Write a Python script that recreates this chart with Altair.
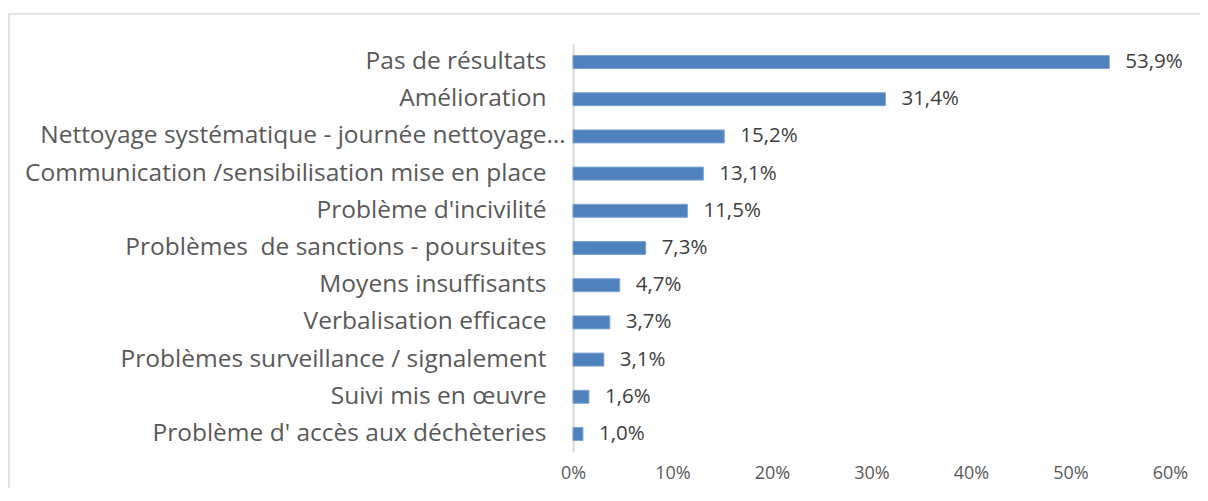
import altair as alt
import pandas as pd

categories = [
    "Pas de résultats",
    "Amélioration",
    "Nettoyage systématique - journée nettoyage…",
    "Communication /sensibilisation mise en place",
    "Problème d'incivilité",
    "Problèmes\u00a0 de sanctions - poursuites",
    "Moyens insuffisants",
    "Verbalisation efficace",
    "Problèmes surveillance / signalement",
    "Suivi mis en œuvre",
    "Problème d' accès aux déchèteries",
]
values = [53.9, 31.4, 15.2, 13.1, 11.5, 7.3, 4.7, 3.7, 3.1, 1.6, 1.0]
tick_values = [0, 10, 20, 30, 40, 50, 60]

df = pd.DataFrame({"cat": categories, "v": values})

FONT = "Open Sans"

y_enc = alt.Y(
    "cat:N",
    sort=categories,
    title=None,
    scale=alt.Scale(paddingInner=0.63, paddingOuter=0.3),
    axis=alt.Axis(
        domain=True,
        domainColor="#d9d9d9",
        domainWidth=2,
        ticks=False,
        labelFont=FONT,
        labelFontSize=24.5,
        labelColor="#595959",
        labelPadding={"condition": {"test": "indexof(datum.value, 'Nettoyage') == 0", "value": 8}, "value": 27},
        labelLimit=800,
    ),
)
x_enc = alt.X(
    "v:Q",
    title=None,
    scale=alt.Scale(domain=[0, 60], nice=False),
    axis=alt.Axis(
        values=tick_values,
        labelExpr="datum.value + '%'",
        labelFlush=False,
        domain=False,
        ticks=False,
        grid=False,
        labelFont=FONT,
        labelFontSize=18,
        labelColor="#595959",
        labelPadding=12,
    ),
)

bars = alt.Chart(df).mark_bar(
    color="#4f81bd", stroke="#7fa3d0", strokeWidth=1, size=13
).encode(y=y_enc, x=x_enc)

labels = alt.Chart(df).transform_calculate(
    lab="replace(format(datum.v, '.1f'), '.', ',') + '%'"
).mark_text(
    align="left", baseline="middle", dx=16, font=FONT, fontSize=20.5, color="#404040"
).encode(y=alt.Y("cat:N", sort=categories), x=alt.X("v:Q"), text="lab:N")

frame = alt.Chart(pd.DataFrame({"a": [0]})).mark_rect(
    fill=None, stroke="#d9d9d9", strokeWidth=1.5
).encode(
    x=alt.value(-564), x2=alt.value(660), y=alt.value(-30), y2=alt.value(520)
)

chart = alt.layer(frame, bars, labels).properties(
    width=597,
    height=408,
    autosize=alt.AutoSizeParams(type="none"),
    padding={"left": 565, "top": 36, "right": 30, "bottom": 36},
).configure_view(stroke=None)

chart.save("out.html", embed_options={"renderer": "svg", "actions": False})
